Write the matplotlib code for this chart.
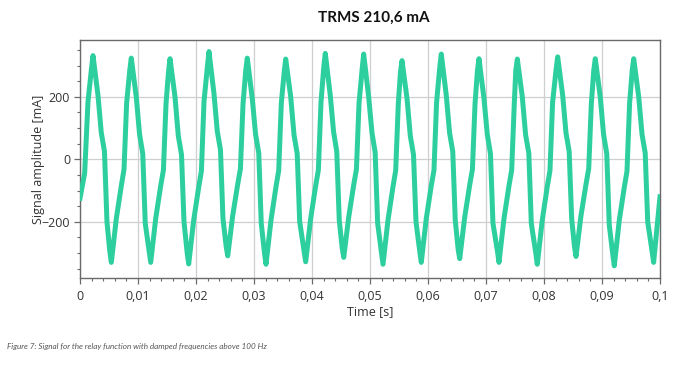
import numpy as np
import matplotlib
matplotlib.use("Agg")
import matplotlib.pyplot as plt
from matplotlib.ticker import MultipleLocator

# key points of the waveform, time in ms, current in mA
peak_ms = [2.24, 8.84, 15.52, 22.24, 28.84, 35.47, 42.29, 48.91, 55.52, 62.29, 68.79, 75.40, 82.36, 88.84, 95.47]
peak_mA = [332, 324, 322, 345, 324, 321, 339, 337, 316, 337, 322, 321, 328, 322, 322]

near_peak_ms = [1.98, 8.58, 15.26, 21.98, 28.58, 35.21, 42.03, 48.65, 55.26, 62.03, 68.53, 75.14, 82.10, 88.58, 95.21]
near_peak_mA = [290, 285, 280, 300, 285, 280, 295, 290, 280, 295, 285, 285, 290, 285, 285]

shoulder_ms = [3.10, 9.70, 16.38, 23.10, 29.70, 36.33, 43.15, 49.77, 56.38, 63.15, 69.65, 76.26, 83.22, 89.70, 96.33]
shoulder_mA = [205, 200, 200, 210, 195, 200, 205, 200, 195, 205, 195, 200, 205, 200, 200]

descent_ms = [3.67, 10.27, 16.95, 23.67, 30.27, 36.90, 43.72, 50.34, 56.95, 63.72, 70.22, 76.83, 83.79, 90.27, 96.90]
descent_mA = [85, 80, 75, 90, 80, 78, 88, 85, 75, 85, 80, 78, 85, 80, 80]

upper_knee_ms = [4.22, 10.82, 17.50, 24.22, 30.82, 37.45, 44.27, 50.89, 57.50, 64.27, 70.77, 77.38, 84.34, 90.82, 97.45]
upper_knee_mA = [25, 18, 15, 30, 20, 18, 25, 22, 15, 25, 18, 20, 25, 18, 20]

drop_ms = [4.65, 11.25, 17.93, 24.65, 31.25, 37.88, 44.70, 51.32, 57.93, 64.70, 71.20, 77.81, 84.77, 91.25, 97.88]
drop_mA = [-200, -205, -200, -190, -205, -200, -195, -205, -200, -195, -205, -205, -190, -210, -200]

near_trough_ms = [5.14, 11.93, 18.48, 25.21, 31.81, 38.65, 45.21, 51.98, 58.58, 65.21, 71.98, 78.58, 85.26, 91.86, 98.64]
near_trough_mA = [-295, -295, -300, -280, -300, -295, -285, -300, -295, -290, -295, -300, -280, -305, -295]

trough_ms = [5.40, 12.19, 18.74, 25.47, 32.07, 38.91, 45.47, 52.24, 58.84, 65.47, 72.24, 78.84, 85.52, 92.12, 98.90]
trough_mA = [-330, -330, -335, -309, -336, -328, -314, -336, -330, -318, -330, -336, -311, -341, -330]

rise_ms = [0.0, 6.26, 13.05, 19.60, 26.33, 32.93, 39.77, 46.33, 53.10, 59.70, 66.33, 73.10, 79.70, 86.38, 92.98, 100.0]
rise_mA = [-125, -190, -190, -195, -180, -195, -190, -185, -195, -190, -185, -190, -195, -180, -195, -120]

rise2_ms = [7.12, 13.91, 20.46, 27.19, 33.79, 40.63, 47.19, 53.96, 60.56, 67.19, 73.96, 80.56, 87.24, 93.84]
rise2_mA = [-85, -85, -90, -80, -88, -85, -82, -88, -85, -82, -85, -88, -80, -90]

lower_knee_ms = [0.80, 7.59, 14.38, 20.93, 27.66, 34.26, 41.10, 47.66, 54.43, 61.03, 67.66, 74.43, 81.03, 87.71, 94.31]
lower_knee_mA = [-45, -32, -35, -38, -30, -36, -34, -32, -36, -35, -32, -34, -36, -30, -38]

steep_ms = [1.38, 8.04, 14.83, 21.38, 28.11, 34.71, 41.55, 48.11, 54.88, 61.48, 68.11, 74.88, 81.48, 88.16, 94.76]
steep_mA = [185, 180, 178, 185, 178, 180, 182, 180, 178, 182, 178, 180, 182, 178, 180]

x_ticks = [0, 0.01, 0.02, 0.03, 0.04, 0.05, 0.06, 0.07, 0.08, 0.09, 0.1]
x_labels = ["0", "0,01", "0,02", "0,03", "0,04", "0,05", "0,06", "0,07", "0,08", "0,09", "0,1"]
y_ticks = [-200, 0, 200]

t_ms = np.concatenate([peak_ms, near_peak_ms, shoulder_ms, descent_ms, upper_knee_ms, drop_ms,
                       near_trough_ms, trough_ms, rise_ms, rise2_ms, lower_knee_ms, steep_ms])
i_mA = np.concatenate([peak_mA, near_peak_mA, shoulder_mA, descent_mA, upper_knee_mA, drop_mA,
                       near_trough_mA, trough_mA, rise_mA, rise2_mA, lower_knee_mA, steep_mA])
order = np.argsort(t_ms)
t_s = t_ms[order] / 1000.0
i_mA = i_mA[order]

plt.rcParams['font.family'] = ['Open Sans', 'DejaVu Sans']

fig = plt.figure(figsize=(6.84, 3.69), dpi=100)
ax = fig.add_axes([80 / 684, 1 - 278 / 369, 580 / 684, 238 / 369])

ax.plot(t_s, i_mA, color='#2ecf9e', lw=3.6, solid_joinstyle='round', zorder=3)

ax.set_xlim(0, 0.1)
ax.set_ylim(-380, 382)
ax.set_xticks(x_ticks)
ax.set_xticklabels(x_labels)
ax.set_yticks(y_ticks)
ax.xaxis.set_minor_locator(MultipleLocator(0.002))
ax.yaxis.set_minor_locator(MultipleLocator(50))
ax.grid(True, which='major', color='#cfcfcf', lw=0.9, zorder=0)

for s in ax.spines.values():
    s.set_color('#6a6a6a')
    s.set_linewidth(1.0)
ax.tick_params(which='major', length=4, width=0.9, color='#6a6a6a', labelsize=9, labelcolor='#333333')
ax.tick_params(axis='x', which='major', pad=5)
ax.tick_params(axis='y', which='major', pad=3)
ax.tick_params(which='minor', length=2.5, width=0.8, color='#6a6a6a')

ax.set_xlabel('Time [s]', fontsize=9, color='#333333', labelpad=1)
ax.set_ylabel('Signal amplitude [mA]', fontsize=9, color='#333333', labelpad=-2)

fig.text(374 / 684, 1 - 18 / 369, 'TRMS 210,6 mA', ha='center', va='center', fontsize=11, fontweight='bold',
         family=['Lato', 'DejaVu Sans'], color='#111111')
fig.text(7 / 684, 1 - 347 / 369, 'Figure 7: Signal for the relay function with damped frequencies above 100 Hz',
         ha='left', va='center', fontsize=5.9, style='italic', family=['Lato', 'DejaVu Sans'], color='#555555')

fig.savefig('out.png', dpi=100)
